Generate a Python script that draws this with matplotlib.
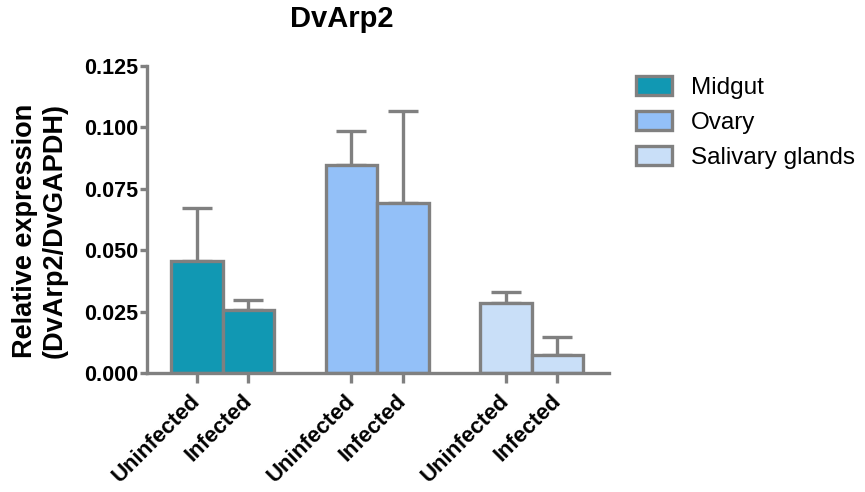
import matplotlib.pyplot as plt
from matplotlib.patches import Patch
import numpy as np

plt.rcParams['font.family'] = ['Liberation Sans', 'DejaVu Sans']

tissues = ["Midgut", "Ovary", "Salivary glands"]
conditions = ["Uninfected", "Infected"]
means = [0.0456, 0.0257, 0.0847, 0.0692, 0.0285, 0.0073]
errors = [0.0216, 0.0040, 0.0138, 0.0375, 0.0045, 0.0074]
colors = ["#1198b3", "#93c0f8", "#c9dff8"]
edge = "#808080"

positions = np.array([0, 1, 3, 4, 6, 7])
bar_colors = [c for c in colors for _ in conditions]
labels = conditions * len(tissues)

fig = plt.figure(figsize=(8.65, 4.92), dpi=100)
ax = fig.add_axes([0.170, 0.242, 0.534, 0.624])

ax.bar(positions, means, width=1.0, color=bar_colors, edgecolor=edge,
       linewidth=2.4, zorder=2)
ax.errorbar(positions, means, yerr=[np.zeros(len(errors)), errors], fmt="none",
            ecolor=edge, elinewidth=2.4, capsize=11, capthick=2.4, zorder=1)

ax.set_xlim(-0.97, 8.0)
ax.set_ylim(0, 0.125)
ax.set_yticks([0, 0.025, 0.05, 0.075, 0.1, 0.125])
ax.yaxis.set_major_formatter("{x:.3f}")
ax.set_xticks(positions)
ax.set_xticklabels(labels, rotation=45, ha="right", va="center",
                   rotation_mode="anchor", fontsize=16, fontweight="bold")
for lab in ax.get_yticklabels():
    lab.set_fontsize(15.5)
    lab.set_fontweight("bold")

for side in ["top", "right"]:
    ax.spines[side].set_visible(False)
for side in ["left", "bottom"]:
    ax.spines[side].set_color(edge)
    ax.spines[side].set_linewidth(2.4)
ax.tick_params(axis="y", colors=edge, width=2.4, length=5, labelcolor="black", pad=1)
ax.tick_params(axis="x", colors=edge, width=2.4, length=7, labelcolor="black", pad=11)

fig.text(40 / 865, 1 - 231 / 492, "Relative expression\n(DvArp2/DvGAPDH)",
         rotation=90, ha="center", va="center", multialignment="right",
         fontsize=19.5, fontweight="bold", linespacing=1.15)

fig.text(342 / 865, 1 - 19 / 492, "DvArp2", ha="center", va="center",
         fontsize=21, fontweight="bold")

handles = [Patch(facecolor=c, edgecolor=edge, linewidth=2.4) for c in colors]
fig.legend(handles, tissues, loc="upper left", bbox_to_anchor=(0.710, 0.89),
           frameon=False, fontsize=17.5, handlelength=1.48, handleheight=0.82,
           labelspacing=0.5, handletextpad=0.78)

fig.savefig("out.png", dpi=100)
